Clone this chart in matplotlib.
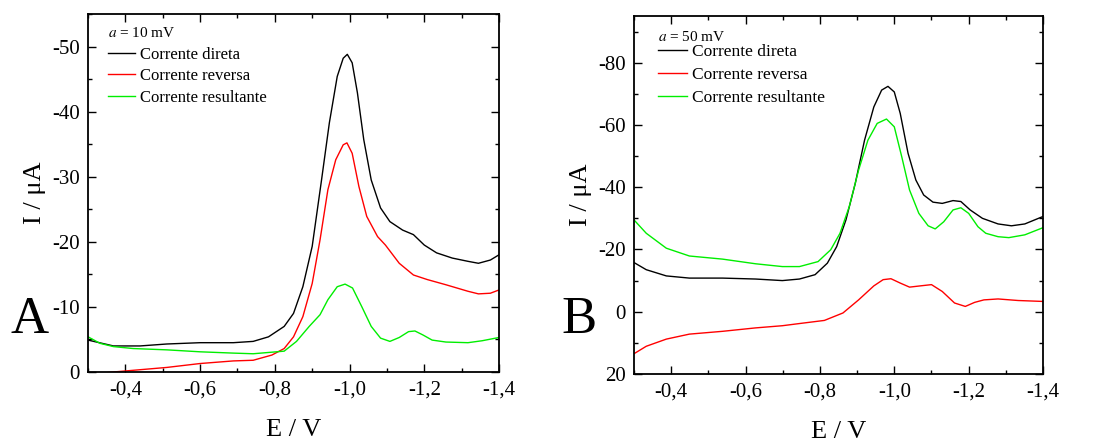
import matplotlib
matplotlib.use("Agg")
import matplotlib.pyplot as plt
from matplotlib.ticker import MultipleLocator, FuncFormatter

plt.rcParams["font.family"] = ["Liberation Serif", "DejaVu Serif"]
plt.rcParams["mathtext.fontset"] = "stix"

# ---------- Panel A (a = 10 mV) ----------
A_dir_E = [-0.300, -0.368, -0.439, -0.511, -0.600, -0.689, -0.742, -0.783, -0.825, -0.850,
           -0.875, -0.900, -0.925, -0.946, -0.967, -0.983, -0.994, -1.007, -1.021, -1.038,
           -1.058, -1.083, -1.108, -1.142, -1.171, -1.200, -1.233, -1.275, -1.317, -1.345,
           -1.377, -1.400]
A_dir_I = [-4.9, -4.0, -4.0, -4.3, -4.5, -4.5, -4.7, -5.4, -7.0, -9.0,
           -13.1, -19.3, -29.5, -38.3, -45.4, -48.2, -48.8, -47.5, -42.9, -35.7,
           -29.5, -25.2, -23.1, -21.8, -21.1, -19.5, -18.3, -17.5, -17.0, -16.7,
           -17.2, -18.0]

A_rev_E = [-0.300, -0.368, -0.511, -0.600, -0.689, -0.742, -0.792, -0.825, -0.850, -0.875,
           -0.900, -0.921, -0.942, -0.963, -0.983, -0.993, -1.007, -1.025, -1.046, -1.075,
           -1.096, -1.133, -1.171, -1.208, -1.258, -1.317, -1.345, -1.377, -1.400]
A_rev_I = [0.4, 0.0, -0.7, -1.3, -1.7, -1.8, -2.6, -3.6, -5.4, -8.5,
           -13.6, -20.3, -28.0, -32.6, -34.9, -35.2, -33.6, -28.5, -23.9, -20.8,
           -19.5, -16.7, -14.9, -14.2, -13.4, -12.4, -12.0, -12.1, -12.6]

A_res_E = [-0.300, -0.332, -0.368, -0.421, -0.511, -0.600, -0.689, -0.742, -0.825, -0.858,
           -0.892, -0.921, -0.942, -0.967, -0.988, -1.008, -1.033, -1.058, -1.083, -1.108,
           -1.133, -1.158, -1.175, -1.196, -1.221, -1.258, -1.317, -1.355, -1.400]
A_res_I = [-5.4, -4.4, -3.9, -3.6, -3.4, -3.1, -2.9, -2.8, -3.2, -4.7,
           -7.0, -8.8, -11.1, -13.1, -13.5, -12.9, -10.0, -7.0, -5.2, -4.7,
           -5.3, -6.2, -6.3, -5.7, -4.9, -4.6, -4.5, -4.8, -5.3]

# ---------- Panel B (a = 50 mV) ----------
B_dir_E = [-0.300, -0.333, -0.387, -0.449, -0.538, -0.627, -0.699, -0.745, -0.787, -0.820,
           -0.845, -0.870, -0.895, -0.920, -0.945, -0.966, -0.983, -1.000, -1.016, -1.037,
           -1.058, -1.079, -1.104, -1.129, -1.158, -1.179, -1.204, -1.237, -1.279, -1.315,
           -1.351, -1.400]
B_dir_I = [-15.8, -13.5, -11.5, -10.8, -10.8, -10.5, -10.0, -10.5, -11.9, -15.6,
           -20.9, -29.5, -41.2, -55.1, -65.8, -71.2, -72.4, -70.6, -63.7, -50.9,
           -42.3, -37.5, -35.2, -34.8, -35.7, -35.4, -32.7, -30.0, -28.2, -27.6,
           -28.2, -30.6]

B_rev_E = [-0.300, -0.333, -0.387, -0.449, -0.538, -0.627, -0.699, -0.745, -0.812, -0.862,
           -0.904, -0.945, -0.970, -0.991, -1.016, -1.041, -1.070, -1.100, -1.129, -1.162,
           -1.191, -1.216, -1.241, -1.279, -1.333, -1.400]
B_rev_I = [13.5, 11.1, 8.8, 7.2, 6.3, 5.2, 4.5, 3.8, 2.8, 0.4,
           -3.8, -8.3, -10.3, -10.6, -9.2, -7.9, -8.3, -8.7, -6.5, -2.8,
           -1.7, -3.0, -3.8, -4.1, -3.6, -3.3]

B_res_E = [-0.300, -0.333, -0.387, -0.449, -0.538, -0.627, -0.699, -0.745, -0.795, -0.829,
           -0.854, -0.879, -0.904, -0.929, -0.954, -0.979, -1.000, -1.020, -1.041, -1.066,
           -1.091, -1.110, -1.133, -1.158, -1.179, -1.200, -1.225, -1.246, -1.279, -1.308,
           -1.351, -1.400]
B_res_I = [-29.5, -25.2, -20.4, -17.9, -16.9, -15.4, -14.5, -14.5, -16.1, -19.9,
           -25.2, -33.8, -45.5, -55.1, -60.5, -61.9, -59.4, -49.8, -39.1, -31.6,
           -27.6, -26.6, -28.9, -32.7, -33.4, -31.6, -27.3, -25.2, -24.1, -23.8,
           -24.7, -27.0]

LABELS = ["Corrente direta", "Corrente reversa", "Corrente resultante"]
COLORS = ["black", "#ff0000", "#00ee00"]


def _fmt_x(v, pos):
    return f"{v:.1f}".replace(".", ",")


def _fmt_y(v, pos):
    return f"{v:.0f}" if abs(v) > 1e-9 else "0"


def style_axes(ax, ylim, ymajor, yminor):
    ax.set_xlim(-0.3, -1.4)
    ax.set_ylim(*ylim)
    ax.xaxis.set_major_locator(MultipleLocator(0.2))
    ax.xaxis.set_minor_locator(MultipleLocator(0.1))
    ax.yaxis.set_major_locator(MultipleLocator(ymajor))
    ax.yaxis.set_minor_locator(MultipleLocator(yminor))
    ax.xaxis.set_major_formatter(FuncFormatter(_fmt_x))
    ax.yaxis.set_major_formatter(FuncFormatter(_fmt_y))
    ax.tick_params(which="both", direction="in", top=True, right=True,
                   labelsize=15, width=1.0)
    ax.tick_params(which="major", length=6, pad=6)
    ax.tick_params(which="minor", length=3)
    for sp in ax.spines.values():
        sp.set_linewidth(1.3)
    ax.set_xlabel("E / V", fontsize=19, labelpad=14)
    ax.set_ylabel("I / \u03bcA", fontsize=19, labelpad=4)


fig = plt.figure(figsize=(11.02, 4.41), dpi=100)
axA = fig.add_axes([0.0799, 0.1565, 0.3729, 0.8118])
axB = fig.add_axes([0.5753, 0.1520, 0.3712, 0.8117])

for ax, series in [(axA, [(A_dir_E, A_dir_I), (A_rev_E, A_rev_I), (A_res_E, A_res_I)]),
                   (axB, [(B_dir_E, B_dir_I), (B_rev_E, B_rev_I), (B_res_E, B_res_I)])]:
    for (e, i), lbl, c in zip(series, LABELS, COLORS):
        ax.plot(e, i, color=c, lw=1.0, label=lbl, solid_joinstyle="round")

style_axes(axA, (0, -55), 10, 5)
style_axes(axB, (20, -95), 20, 10)

# legends: (axes, title, anchor, fontsize, labelspacing, title gap)
for ax, title, anchor, fs, lsp, gap in [
        (axA, r"$a$ = 10 mV", (0.02, 1.0), 12, 0.33, 5),
        (axB, r"$a$ = 50 mV", (0.03, 0.995), 12.5, 0.38, 0)]:
    leg = ax.legend(loc="upper left", bbox_to_anchor=anchor, frameon=False,
                    fontsize=fs, title=title, title_fontsize=11,
                    alignment="left", handlelength=1.65, handletextpad=0.3,
                    labelspacing=lsp, borderaxespad=0.3)
    leg._legend_box.sep = gap

fig.text(30 / 1102, 1 - 333 / 441, "A", fontsize=38, ha="center", va="baseline")
fig.text(579 / 1102, 1 - 333 / 441, "B", fontsize=38, ha="center", va="baseline")

fig.savefig("out.png", dpi=100)
